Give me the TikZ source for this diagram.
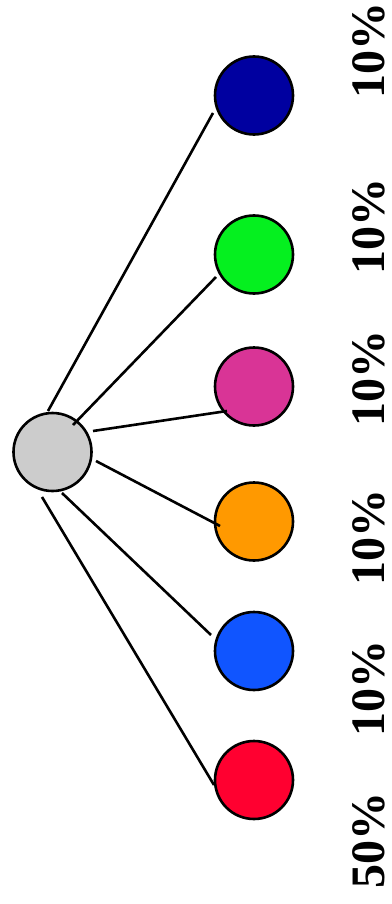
\documentclass[tikz,border=0pt]{standalone}
\usepackage{fontspec}
\setmainfont{Liberation Serif}
\definecolor{cgray}{HTML}{CCCCCC}
\definecolor{cnavy}{HTML}{0000A0}
\definecolor{cgreen}{HTML}{05F01F}
\definecolor{cmag}{HTML}{D93496}
\definecolor{corange}{HTML}{FF9900}
\definecolor{cblue}{HTML}{1055FF}
\definecolor{cred}{HTML}{FF0030}
\tikzset{
  ball/.style={circle, draw=black, line width=2.6pt, minimum size=78pt, inner sep=0pt},
  conn/.style={draw=black, line width=2.6pt},
  pct/.style={rotate=90, font=\fontsize{48}{48}\selectfont\bfseries, inner sep=0pt, anchor=center}
}
\begin{document}
\begin{tikzpicture}[x=1pt, y=-1pt]
\useasboundingbox (0,0) rectangle (391,904);
\node[ball, fill=cgray] (c) at (52.5,452) {};
\node[ball, fill=cnavy] (n1) at (254,95.5) {};
\node[ball, fill=cgreen] (n2) at (254,254.5) {};
\node[ball, fill=cmag] (n3) at (254,386.5) {};
\node[ball, fill=corange] (n4) at (254,521.5) {};
\node[ball, fill=cblue] (n5) at (254,651) {};
\node[ball, fill=cred] (n6) at (254,780) {};
\coordinate (s1) at (48,411);
\coordinate (s2) at (73,425);
\coordinate (s3) at (93,431);
\coordinate (s4) at (96,461);
\coordinate (s5) at (62,493);
\coordinate (s6) at (42,497);
\coordinate (e1) at (213,113);
\coordinate (e2) at (216,277);
\coordinate (e3) at (227,411);
\coordinate (e4) at (220,526);
\coordinate (e5) at (211,635);
\coordinate (e6) at (214,785);
\draw[conn] (s1) -- (e1);
\draw[conn] (s2) -- (e2);
\draw[conn] (s3) -- (e3);
\draw[conn] (s4) -- (e4);
\draw[conn] (s5) -- (e5);
\draw[conn] (s6) -- (e6);
\node[pct] (l1) at (369,51) {10\%};
\node[pct] (l2) at (369,226) {10\%};
\node[pct] (l3) at (369,378) {10\%};
\node[pct] (l4) at (369,537) {10\%};
\node[pct] (l5) at (369,688) {10\%};
\node[pct] (l6) at (369,840) {50\%};
\end{tikzpicture}
\end{document}
